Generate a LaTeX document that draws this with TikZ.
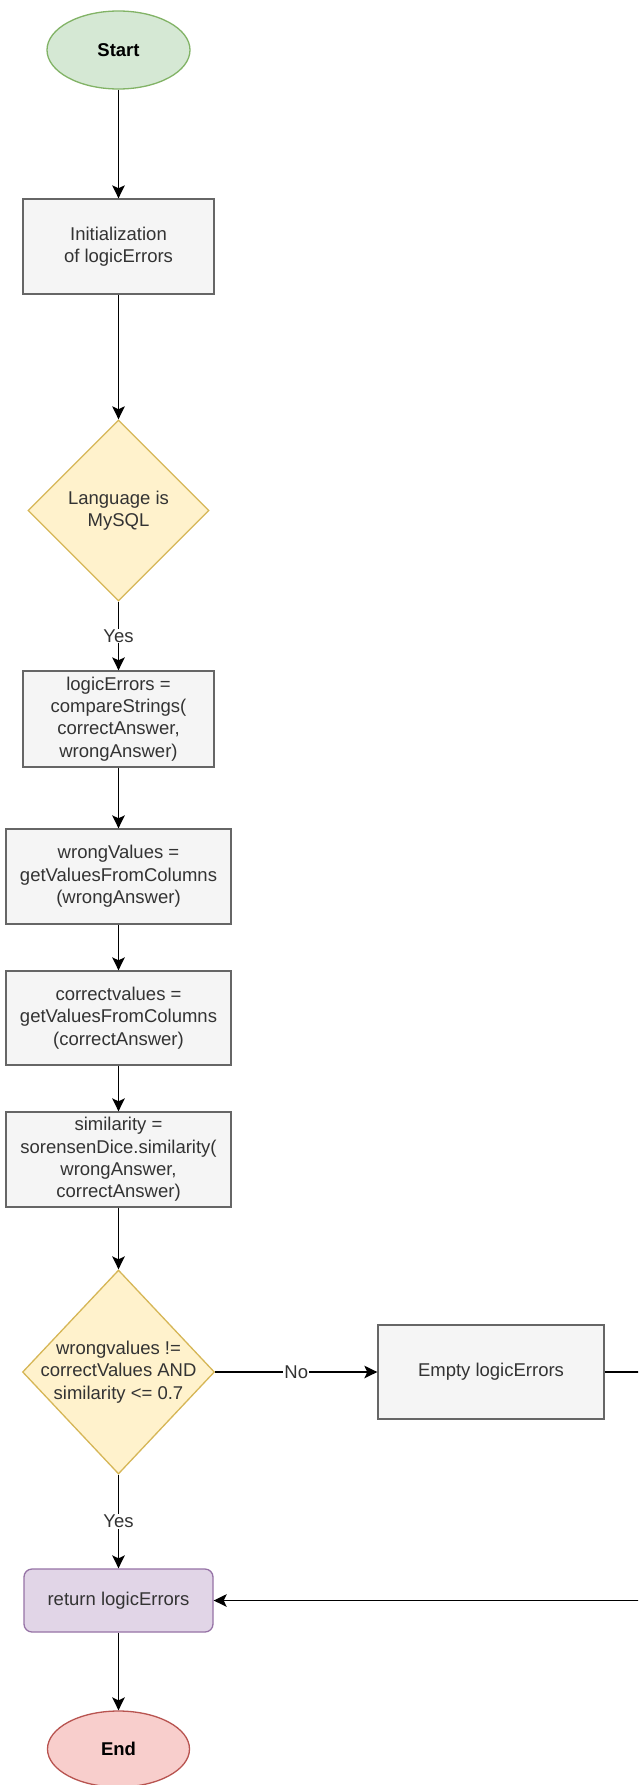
\documentclass[tikz,border=0pt]{standalone}
\usepackage{fontspec}
\setmainfont{Liberation Sans}
\usetikzlibrary{shapes.geometric,arrows.meta}

\definecolor{txt}{HTML}{333333}
\definecolor{greenfill}{HTML}{D5E8D4}
\definecolor{greenline}{HTML}{82B366}
\definecolor{grayfill}{HTML}{F5F5F5}
\definecolor{grayline}{HTML}{666666}
\definecolor{yellowfill}{HTML}{FFF2CC}
\definecolor{yellowline}{HTML}{D6B656}
\definecolor{purplefill}{HTML}{E1D5E7}
\definecolor{purpleline}{HTML}{9673A6}
\definecolor{redfill}{HTML}{F8CECC}
\definecolor{redline}{HTML}{B85450}

\tikzset{
  basefont/.style={font=\fontsize{18.5}{22.4}\selectfont, text=txt, align=center},
  terminal/.style={ellipse, draw, line width=1.3pt, inner sep=0pt,
    font=\fontsize{18.5}{22.4}\selectfont\bfseries, text=black},
  startbox/.style={terminal, fill=greenfill, draw=greenline},
  endbox/.style={terminal, fill=redfill, draw=redline},
  procbox/.style={basefont, rectangle, draw=grayline, fill=grayfill,
    line width=1.3pt, inner sep=0pt},
  decision/.style={diamond, draw=yellowline, fill=yellowfill,
    line width=1.3pt, inner sep=0pt},
  dtext/.style={basefont},
  retbox/.style={basefont, rectangle, rounded corners=8pt, draw=purpleline,
    fill=purplefill, line width=1.3pt, inner sep=0pt},
  flow/.style={line width=1.8pt, black,
    -{Stealth[length=13pt, width=12.5pt, inset=3pt]}},
  lbl/.style={basefont, fill=white, inner sep=1pt}
}

\begin{document}
\begin{tikzpicture}[x=1pt, y=-1pt]
  \clip (0,0) rectangle (638,1785);
  \fill[white] (0,0) rectangle (638,1785);

  % main column
  \node[startbox, minimum width=143pt, minimum height=78pt] (start) at (118.5,50) {Start};
  \node[procbox, minimum width=191pt, minimum height=95pt] (init) at (118.5,246.5)
    {Initialization\\of logicErrors};
  \node[decision, minimum width=181pt, minimum height=181pt,
    label={[dtext]center:Language is\\MySQL}] (lang) at (118.5,510.5) {};
  \node[procbox, minimum width=191pt, minimum height=96pt] (cmp) at (118.5,719)
    {logicErrors =\\compareStrings(\\correctAnswer,\\wrongAnswer)};
  \node[procbox, minimum width=225pt, minimum height=95pt] (wv) at (118.5,876.5)
    {wrongValues =\\getValuesFromColumns\\(wrongAnswer)};
  \node[procbox, minimum width=225pt, minimum height=94pt] (cv) at (118.5,1018)
    {correctvalues =\\getValuesFromColumns\\(correctAnswer)};
  \node[procbox, minimum width=225pt, minimum height=95pt] (sim) at (118.5,1159.5)
    {similarity =\\sorensenDice.similarity(\\wrongAnswer,\\correctAnswer)};
  \node[decision, minimum width=192pt, minimum height=204pt,
    label={[dtext]center:wrongvalues !=\\correctValues AND\\similarity <= 0.7}]
    (cond) at (118.5,1372) {};
  \node[procbox, minimum width=226pt, minimum height=94pt] (empty) at (491,1372)
    {Empty logicErrors};
  \node[retbox, minimum width=189pt, minimum height=63pt] (ret) at (118.5,1600.5)
    {return logicErrors};
  \node[endbox, minimum width=142pt, minimum height=76pt] (end) at (118.5,1749) {End};

  % loop-back point to the right of the "Empty logicErrors" step
  \coordinate (loop) at (680,1372);

  % connectors
  \draw[flow] (start) -- (init);
  \draw[flow] (init) -- (lang);
  \draw[flow] (lang) -- node[lbl] {Yes} (cmp);
  \draw[flow] (cmp) -- (wv);
  \draw[flow] (wv) -- (cv);
  \draw[flow] (cv) -- (sim);
  \draw[flow] (sim) -- (cond);
  \draw[flow] (cond) -- node[lbl] {No} (empty);
  \draw[flow] (cond) -- node[lbl] {Yes} (ret);
  \draw[flow] (ret) -- (end);
  \draw[flow] (empty) -- (loop) |- (ret);
\end{tikzpicture}
\end{document}
